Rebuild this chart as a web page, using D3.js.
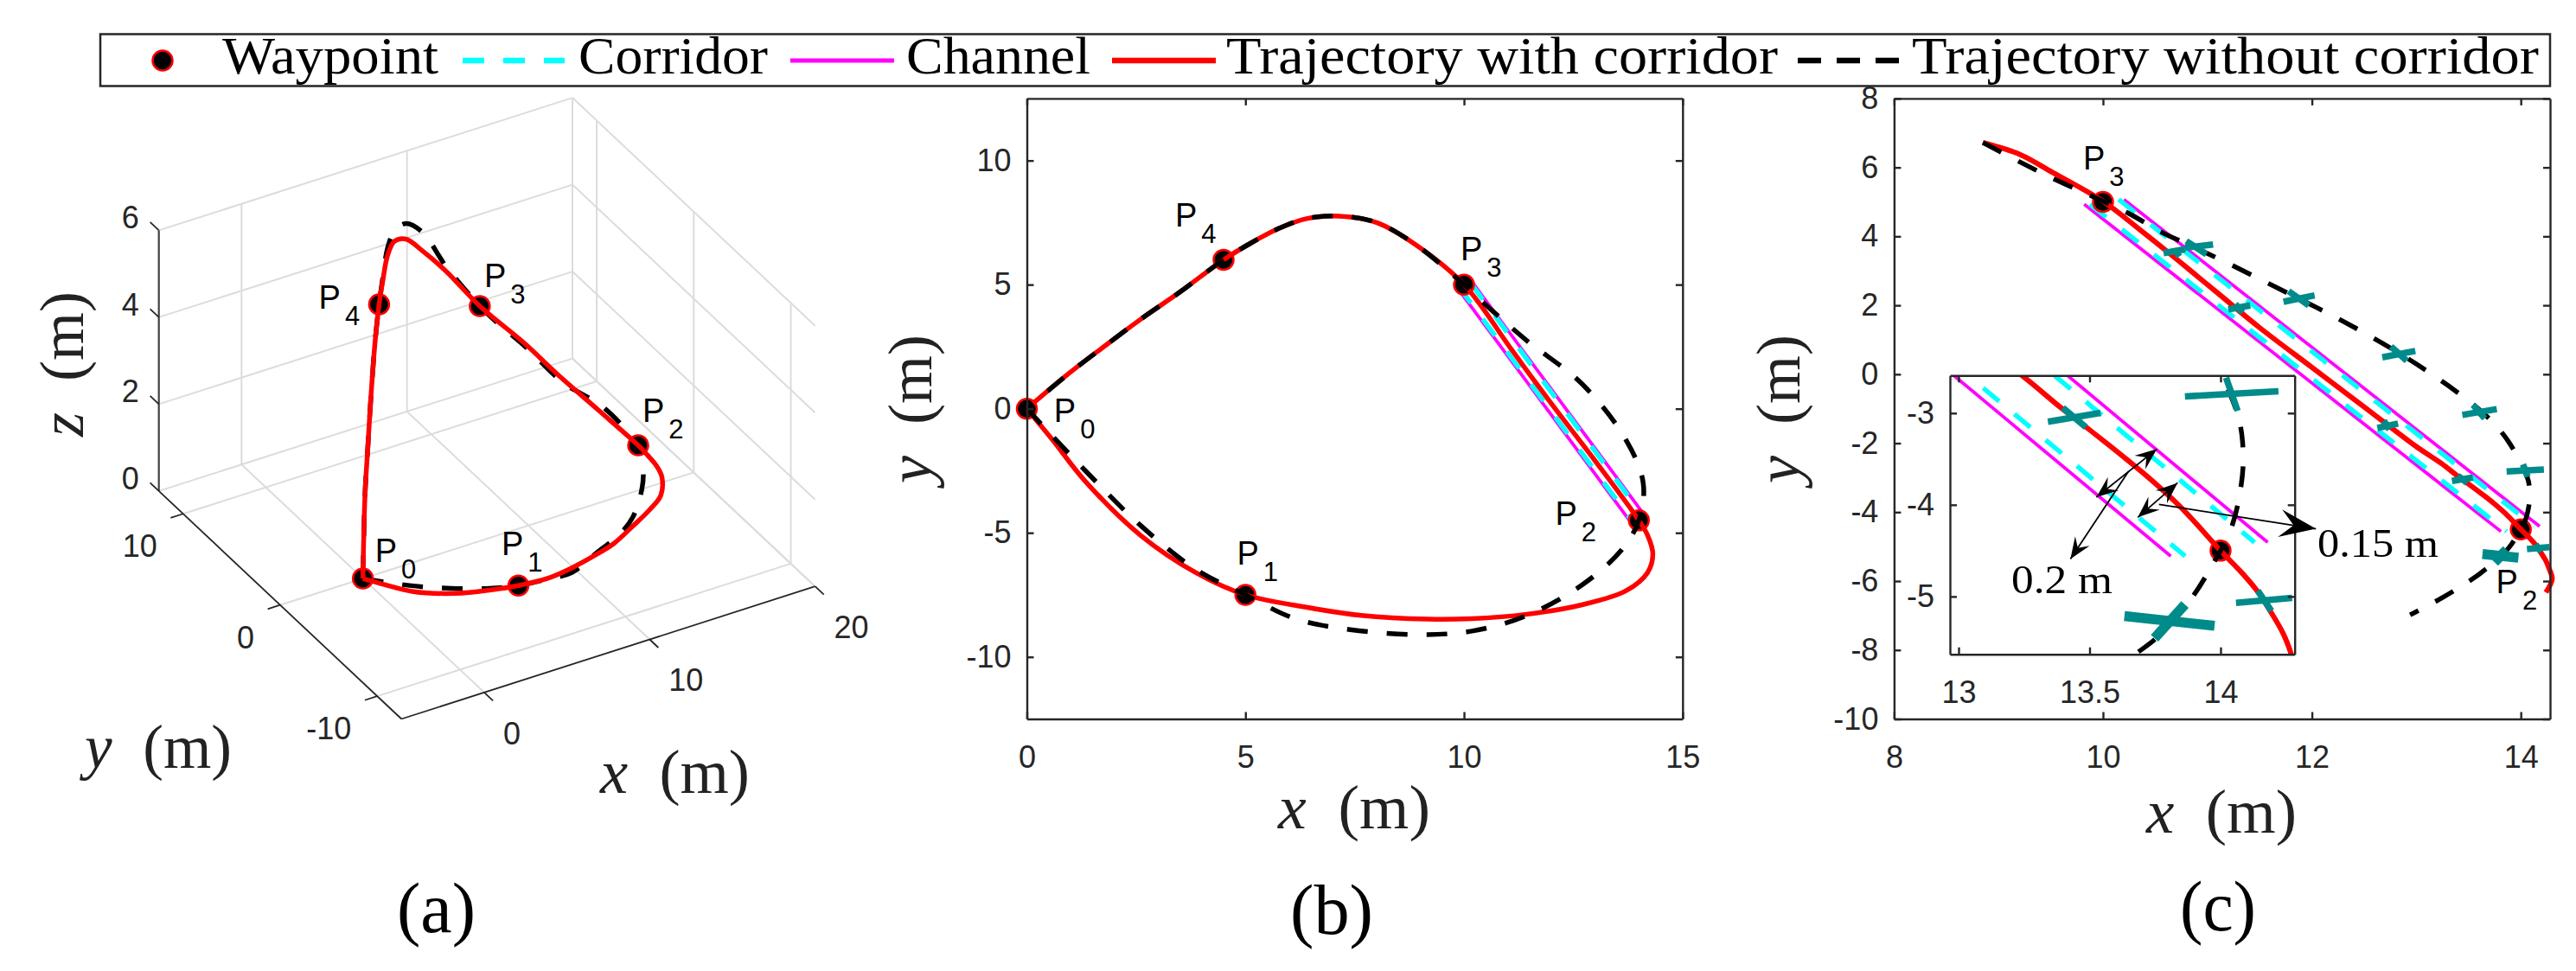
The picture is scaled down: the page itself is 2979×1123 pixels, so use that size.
<!DOCTYPE html>
<html>
<head>
<meta charset="utf-8">
<script src="https://cdn.jsdelivr.net/npm/d3@7"></script>
<style>
  html, body { margin: 0; padding: 0; background: #fff; }
  svg { display: block; }
</style>
</head>
<body>
<svg id="chart" width="2979" height="1123"></svg>
<script>
// waypoints P0..P4
const wpX = [0, 5, 14, 10, 4.5];
const wpY = [0, -7.5, -4.5, 5, 6];
const wpZ = [0, 0.8, 2.3, 4, 4.5];

// full loop, trajectory with corridor
const redX = [0, 0.58, 1.34, 2.6, 3.86, 5, 6.39, 7.65, 9.17, 10.18, 11.44, 12.7, 13.7, 14.2, 14.32, 14.2, 14, 13, 12, 11.1, 10, 8.9, 8, 7.15, 6.4, 5.76, 5.12, 4.5, 3.5, 2.6, 1.8, 0.96, 0];
const redY = [0, -1.24, -2.93, -5.1, -6.6, -7.5, -8, -8.33, -8.48, -8.46, -8.28, -7.9, -7.34, -6.6, -5.85, -5.1, -4.5, -2.1, 0.2, 2.35, 5, 6.6, 7.5, 7.76, 7.66, 7.26, 6.67, 6, 4.7, 3.6, 2.55, 1.42, 0];
const redZ = [0, 0.05, 0.15, 0.41, 0.65, 0.8, 0.89, 1.04, 1.22, 1.33, 1.54, 1.69, 1.78, 1.99, 2.07, 2.18, 2.3, 2.73, 3.15, 3.58, 4, 4.6, 4.99, 5.31, 5.37, 5.22, 4.84, 4.5, 4.06, 3.12, 2.3, 1.5, 0];

// full loop, trajectory without corridor
const blackX = [0, 1.34, 2.6, 3.86, 5, 6.14, 7.4, 8.9, 10.18, 11.44, 12.7, 13.6, 14, 14.1, 13.7, 12.7, 11.44, 10.55, 10, 8.9, 8, 7.15, 6.4, 5.76, 5.12, 4.5, 3.5, 2.6, 1.8, 0.96, 0];
const blackY = [0, -2.5, -4.7, -6.47, -7.5, -8.46, -8.9, -9.1, -8.96, -8.33, -7.1, -5.7, -4.5, -3, -1.24, 1, 2.74, 4.1, 5, 6.6, 7.5, 7.76, 7.66, 7.26, 6.67, 6, 4.7, 3.6, 2.55, 1.42, 0];
const blackZ = [0, 0.2, 0.44, 0.66, 0.8, 1.01, 1.1, 1.45, 1.62, 1.77, 2, 2.02, 2.3, 2.35, 2.56, 2.75, 3.36, 3.73, 4, 4.71, 5.42, 5.67, 5.6, 5.39, 4.91, 4.5, 4.06, 3.12, 2.3, 1.5, 0];

// closer readings of the P3-P2 stretch for panel (c)
const cRedX = [8.85, 9.21, 9.52, 10, 10.35, 10.7, 11.1, 11.5, 12, 12.5, 13, 13.242, 13.39, 13.49, 13.644, 13.74, 13.853, 14, 14.084, 14.14, 14.19, 14.24, 14.27, 14.3, 14.24];
const cRedY = [6.72, 6.37, 5.85, 5.02, 4.2, 3.35, 2.35, 1.35, 0.2, -0.95, -2.1, -2.59, -2.94, -3.16, -3.51, -3.74, -4.04, -4.5, -4.75, -4.94, -5.16, -5.41, -5.63, -5.94, -6.33];
const cBlackX = [8.85, 9.21, 9.52, 10, 10.25, 10.56, 10.82, 11.23, 11.85, 12.26, 12.83, 13.3, 13.66, 13.87, 14.06, 14.086, 14.078, 14.04, 13.97, 13.886, 13.76, 13.67, 13.58, 13.25, 12.94];
const cBlackY = [6.72, 6.15, 5.68, 5.02, 4.66, 4.12, 3.76, 3.17, 2.23, 1.6, 0.62, -0.32, -1.18, -1.9, -2.97, -3.4, -3.8, -4.26, -4.65, -5.03, -5.44, -5.64, -5.85, -6.48, -6.98];

// straight segments [x1, y1, x2, y2]
const channelLines = [[10.2, 5.07, 14.18, -4.41], [9.82, 4.93, 13.81, -4.56]];
const corridorLines = [[10.15, 5.07, 14.13, -4.41], [9.875, 4.93, 13.865, -4.56]];

// teal crosses, arm ends in data units
const crossLong = [
  [10.58, 3.515, 10.785, 3.625], [10.785, 3.667, 11.054, 3.767], [11.2, 1.885, 11.41, 1.995],
  [11.728, 2.103, 12.026, 2.287], [12.674, 0.49, 12.99, 0.675], [12.627, -1.56, 12.825, -1.43],
  [13.44, -1.18, 13.77, -1.01], [13.864, -2.818, 14.221, -2.761], [13.341, -3.094, 13.542, -2.997],
  [13.633, -5.214, 13.977, -5.32], [14.059, -5.069, 14.273, -5.016]
];
const crossShort = [
  [10.687, 3.626, 10.73, 3.415], [10.797, 3.86, 10.99, 3.483], [11.267, 2.035, 11.335, 1.785],
  [11.777, 2.41, 11.97, 1.995], [12.757, 0.807, 12.908, 0.39], [12.688, -1.35, 12.743, -1.6],
  [13.543, -0.89, 13.654, -1.28], [14.021, -2.614, 14.065, -2.975], [13.398, -2.943, 13.486, -3.154],
  [13.864, -5.088, 13.748, -5.455], [14.142, -4.937, 14.194, -5.157]
];

// arrows inside the inset of (c), [x1, y1, x2, y2]
const doubleArrows = [[13.526, -3.917, 13.757, -3.392], [13.684, -4.137, 13.836, -3.76]];
const leader02 = [13.649, -3.634, 13.427, -4.592];
const leader015 = [13.765, -3.995, 14.364, -4.262];

const xTicks3d = [0, 10, 20], yTicks3d = [-10, 0, 10], zTicks3d = [0, 2, 4, 6];
const xTicksB = [0, 5, 10, 15], yTicksB = [-10, -5, 0, 5, 10];
const xTicksC = [8, 10, 12, 14], yTicksC = [-10, -8, -6, -4, -2, 0, 2, 4, 6, 8];
const xTicksI = [13, 13.5, 14], yTicksI = [-3, -4, -5];

const legendLabels = ["Waypoint", "Corridor", "Channel", "Trajectory with corridor", "Trajectory without corridor"];

const RED = "#ff0000", CYAN = "#00ffff", MAGENTA = "#ff00ff", TEAL = "#008b8b", AXIS = "#262626";
const SERIF = "'Liberation Serif'", SANS = "'Liberation Sans'";

const svg = d3.select("#chart");

function textLine(g, str, x, y, size, width) {
  return g.append("text").attr("x", x).attr("y", y)
    .attr("font-family", SERIF).attr("font-size", size).attr("fill", "#000")
    .attr("textLength", width).attr("lengthAdjust", "spacingAndGlyphs")
    .text(str);
}

// "x (m)" with an italic letter
function axisTitle(letter, x, y, width, rotated) {
  let t = svg.append("text")
    .attr("font-family", SERIF).attr("font-size", 72).attr("fill", "#222")
    .attr("textLength", width).attr("lengthAdjust", "spacingAndGlyphs")
    .attr("xml:space", "preserve");
  if (rotated) t.attr("transform", `translate(${x},${y}) rotate(-90)`).attr("text-anchor", "middle");
  else t.attr("x", x).attr("y", y);
  t.append("tspan").attr("font-style", "italic").text(letter);
  t.append("tspan").text("  (m)");
}

function pointLabel(i, x, y) {
  let t = svg.append("text").attr("x", x).attr("y", y)
    .attr("font-family", SANS).attr("font-size", 38).attr("fill", "#000");
  t.append("tspan").text("P");
  t.append("tspan").attr("font-size", 31).attr("dx", 5).attr("dy", 19).text(i);
}

function waypointMarks(g, px, py, idx) {
  g.selectAll(null).data(idx).join("circle")
    .attr("cx", i => px(i)).attr("cy", i => py(i)).attr("r", 11.5)
    .attr("fill", "#000").attr("stroke", RED).attr("stroke-width", 2.5);
}

function pathLine(g, line, pts, color, width, dash) {
  let p = g.append("path").datum(pts).attr("d", line).attr("fill", "none")
    .attr("stroke", color).attr("stroke-width", width);
  if (dash) p.attr("stroke-dasharray", dash);
  return p;
}

function boxAxes(g, x, y, xt, yt) {
  const tick = 8;
  const bottom = g.append("g").attr("transform", `translate(0,${y.range()[0]})`)
    .call(d3.axisBottom(x).tickValues(xt).tickSizeInner(-tick).tickSizeOuter(0).tickPadding(31).tickFormat(d => d));
  const left = g.append("g").attr("transform", `translate(${x.range()[0]},0)`)
    .call(d3.axisLeft(y).tickValues(yt).tickSizeInner(-tick).tickSizeOuter(0).tickPadding(18).tickFormat(d => d));
  const top = g.append("g").attr("transform", `translate(0,${y.range()[1]})`)
    .call(d3.axisTop(x).tickValues(xt).tickSizeInner(-tick).tickSizeOuter(0));
  const right = g.append("g").attr("transform", `translate(${x.range()[1]},0)`)
    .call(d3.axisRight(y).tickValues(yt).tickSizeInner(-tick).tickSizeOuter(0));
  top.selectAll("text").remove();
  right.selectAll("text").remove();
  for (let a of [bottom, left, top, right]) {
    a.attr("font-family", SANS).attr("font-size", 36);
    a.selectAll("text").attr("fill", AXIS);
    a.selectAll("line, path").attr("stroke", AXIS).attr("stroke-width", 2.4);
  }
}

function arrowHead(g, x0, y0, x1, y1, len, wide) {
  const a = Math.atan2(y1 - y0, x1 - x0);
  const ux = Math.cos(a), uy = Math.sin(a);
  const pts = [
    [x1, y1],
    [x1 - len * ux + wide * uy, y1 - len * uy - wide * ux],
    [x1 - len * 0.62 * ux, y1 - len * 0.62 * uy],
    [x1 - len * ux - wide * uy, y1 - len * uy + wide * ux]
  ];
  g.append("polygon").attr("points", pts.join(" ")).attr("fill", "#000");
}

/* ---------- legend ---------- */
const legend = svg.append("g");
legend.append("rect").attr("x", 116).attr("y", 39.5).attr("width", 2833).attr("height", 60)
  .attr("fill", "#fff").attr("stroke", AXIS).attr("stroke-width", 2.5);
legend.append("circle").attr("cx", 188).attr("cy", 70).attr("r", 11.5)
  .attr("fill", "#000").attr("stroke", RED).attr("stroke-width", 2.5);
const legendSamples = [
  [535, 653, CYAN, 6.5, "25,22"],
  [914, 1034, MAGENTA, 5, null],
  [1286, 1406, RED, 6.5, null],
  [2079, 2197, "#000", 6.5, "27,18"]
];
for (let s of legendSamples) {
  let l = legend.append("line").attr("x1", s[0]).attr("x2", s[1]).attr("y1", 70).attr("y2", 70)
    .attr("stroke", s[2]).attr("stroke-width", s[3]);
  if (s[4]) l.attr("stroke-dasharray", s[4]);
}
const legendText = [[257, 250], [669, 219], [1048, 213], [1418, 638], [2211, 725]];
legendLabels.forEach((d, i) => textLine(legend, d, legendText[i][0], 85, 62, legendText[i][1]));

/* ---------- panel (a), 3D view ---------- */
const ox = 464.3, oy = 831.5;
const xToPx = d3.scaleLinear().domain([-5, 20]).range([0, 478.3]);
const xToPy = d3.scaleLinear().domain([-5, 20]).range([0, -153.3]);
const yToPx = d3.scaleLinear().domain([-12.5, 12.5]).range([0, -280.6]);
const yToPy = d3.scaleLinear().domain([-12.5, 12.5]).range([0, -263.6]);
const zToPy = d3.scaleLinear().domain([0, 6]).range([0, -301.5]);
const projX = (x, y) => ox + xToPx(x) + yToPx(y);
const projY = (x, y, z) => oy + xToPy(x) + yToPy(y) + zToPy(z);

const a = svg.append("g");
function seg3(g, p, q, color, width) {
  g.append("line")
    .attr("x1", projX(p[0], p[1])).attr("y1", projY(p[0], p[1], p[2]))
    .attr("x2", projX(q[0], q[1])).attr("y2", projY(q[0], q[1], q[2]))
    .attr("stroke", color).attr("stroke-width", width);
}
const GRID = "#dcdcdc";
for (let x of xTicks3d) {
  seg3(a, [x, -12.5, 0], [x, 12.5, 0], GRID, 2);
  seg3(a, [x, 12.5, 0], [x, 12.5, 6], GRID, 2);
}
for (let y of yTicks3d) {
  seg3(a, [-5, y, 0], [20, y, 0], GRID, 2);
  seg3(a, [20, y, 0], [20, y, 6], GRID, 2);
}
for (let z of zTicks3d) {
  seg3(a, [-5, 12.5, z], [20, 12.5, z], GRID, 2);
  seg3(a, [20, 12.5, z], [20, -12.5, z], GRID, 2);
}
seg3(a, [-5, 12.5, 0], [-5, 12.5, 6], "#404040", 2.2);
seg3(a, [-5, -12.5, 0], [-5, 12.5, 0], AXIS, 1.8);
seg3(a, [-5, -12.5, 0], [20, -12.5, 0], AXIS, 1.8);
for (let z of zTicks3d) seg3(a, [-5, 12.5, z], [-5, 13.4, z], AXIS, 1.8);
for (let y of yTicks3d) seg3(a, [-5, y, 0], [-5.75, y, 0], AXIS, 1.8);
for (let x of xTicks3d) seg3(a, [x, -12.5, 0], [x, -13.4, 0], AXIS, 1.8);

function tick3(str, x, y, anchor) {
  a.append("text").attr("x", x).attr("y", y).attr("dy", "0.36em").attr("text-anchor", anchor)
    .attr("font-family", SANS).attr("font-size", 36).attr("fill", AXIS).text(str);
}
for (let z of zTicks3d) tick3(z, projX(-5, 12.5) - 23, projY(-5, 12.5, z) - 15, "end");
for (let y of yTicks3d) tick3(y, projX(-5, y) - 30, projY(-5, y, 0) + 37, "end");
for (let x of xTicks3d) tick3(x, projX(x, -12.5) + 22, projY(x, -12.5, 0) + 47, "start");

const line3 = d3.line().curve(d3.curveCatmullRom)
  .x(i => projX(i[0], i[1])).y(i => projY(i[0], i[1], i[2]));
pathLine(a, line3, blackX.map((d, i) => [d, blackY[i], blackZ[i]]), "#000", 5.5, "24,22");
waypointMarks(a, i => projX(wpX[i], wpY[i]), i => projY(wpX[i], wpY[i], wpZ[i]), d3.range(5));
pathLine(a, line3, redX.map((d, i) => [d, redY[i], redZ[i]]), RED, 5.5);

axisTitle("z", 96, 421, 168, true);
axisTitle("y", 98, 888, 170, false);
axisTitle("x", 694, 917, 173, false);
pointLabel(0, 433.7, 650);
pointLabel(1, 580, 642);
pointLabel(2, 743, 488);
pointLabel(3, 560, 331.6);
pointLabel(4, 368.6, 356.6);
textLine(svg, "(a)", 459, 1078, 82, 91);

/* ---------- panel (b) ---------- */
const xB = d3.scaleLinear().domain([0, 15]).range([1187.5, 1945.8]);
const yB = d3.scaleLinear().domain([-12.5, 12.5]).range([831.5, 113.9]);
const b = svg.append("g");
const lineB = d3.line().curve(d3.curveCatmullRom).x(d => xB(d[0])).y(d => yB(d[1]));

function channelAndCorridor(g, x, y) {
  g.selectAll(null).data(channelLines).join("line")
    .attr("x1", d => x(d[0])).attr("y1", d => y(d[1]))
    .attr("x2", d => x(d[2])).attr("y2", d => y(d[3]))
    .attr("stroke", MAGENTA).attr("stroke-width", 3.8);
  g.selectAll(null).data(corridorLines).join("line")
    .attr("x1", d => x(d[0])).attr("y1", d => y(d[1]))
    .attr("x2", d => x(d[2])).attr("y2", d => y(d[3]))
    .attr("stroke", CYAN).attr("stroke-width", 5.5).attr("stroke-dasharray", "24,23");
}

channelAndCorridor(b, xB, yB);
waypointMarks(b, i => xB(wpX[i]), i => yB(wpY[i]), d3.range(5));
pathLine(b, lineB, redX.map((d, i) => [d, redY[i]]), RED, 5.5);
pathLine(b, lineB, blackX.map((d, i) => [d, blackY[i]]), "#000", 5.5, "24,22");
boxAxes(b, xB, yB, xTicksB, yTicksB);

axisTitle("y", 1077, 473, 172, true);
axisTitle("x", 1478, 958, 176, false);
pointLabel(0, 1218.8, 488.4);
pointLabel(1, 1430.5, 653);
pointLabel(2, 1798.5, 607);
pointLabel(3, 1689, 300.8);
pointLabel(4, 1359, 262);
textLine(svg, "(b)", 1492, 1080, 82, 96);

/* ---------- panel (c) with inset ---------- */
function detail(g, x, y, idx) {
  const ln = d3.line().curve(d3.curveCatmullRom).x(d => x(d[0])).y(d => y(d[1]));
  channelAndCorridor(g, x, y);
  waypointMarks(g, i => x(wpX[i]), i => y(wpY[i]), idx);
  pathLine(g, ln, cRedX.map((d, i) => [d, cRedY[i]]), RED, 6);
  pathLine(g, ln, cBlackX.map((d, i) => [d, cBlackY[i]]), "#000", 5.5, "24,22");
  const arm = list => g.selectAll(null).data(list).join("line")
    .attr("x1", d => x(d[0])).attr("y1", d => y(d[1]))
    .attr("x2", d => x(d[2])).attr("y2", d => y(d[3]))
    .attr("stroke", TEAL).attr("stroke-width", (d, i) => i === 9 ? 11.5 : 7.5);
  arm(crossLong);
  arm(crossShort);
}

const xC = d3.scaleLinear().domain([8, 14.28]).range([2190.4, 2949]);
const yC = d3.scaleLinear().domain([-10, 8]).range([831.5, 113.9]);
const c = svg.append("g");
detail(c, xC, yC, [2, 3]);
boxAxes(c, xC, yC, xTicksC, yTicksC);

const xI = d3.scaleLinear().domain([12.967, 14.283]).range([2255, 2653.7]);
const yI = d3.scaleLinear().domain([-5.63, -2.59]).range([756.7, 434.3]);
const inset = svg.append("g");
inset.append("rect").attr("x", 2255).attr("y", 434.3).attr("width", 398.7).attr("height", 322.4).attr("fill", "#fff");
svg.append("clipPath").attr("id", "inset-clip").append("rect")
  .attr("x", 2255).attr("y", 434.3).attr("width", 398.7).attr("height", 322.4);
detail(inset.append("g").attr("clip-path", "url(#inset-clip)"), xI, yI, [2]);
boxAxes(inset, xI, yI, xTicksI, yTicksI);

const notes = svg.append("g");
function arrowLine(d, heads, len, wide) {
  const x0 = xI(d[0]), y0 = yI(d[1]), x1 = xI(d[2]), y1 = yI(d[3]);
  notes.append("line").attr("x1", x0).attr("y1", y0).attr("x2", x1).attr("y2", y1)
    .attr("stroke", "#000").attr("stroke-width", 1.8);
  arrowHead(notes, x0, y0, x1, y1, len, wide);
  if (heads === 2) arrowHead(notes, x1, y1, x0, y0, len, wide);
}
for (let d of doubleArrows) arrowLine(d, 2, 25, 10);
arrowLine(leader02, 1, 25, 10);
arrowLine(leader015, 1, 42, 16);
textLine(notes, "0.2 m", 2326, 686, 46, 117);
textLine(notes, "0.15 m", 2680, 644, 46, 140);

axisTitle("y", 2081, 473, 172, true);
axisTitle("x", 2482, 963, 174, false);
pointLabel(3, 2409, 196);
pointLabel(2, 2886.6, 686);
textLine(svg, "(c)", 2521, 1076, 82, 88);
</script>
</body>
</html>
